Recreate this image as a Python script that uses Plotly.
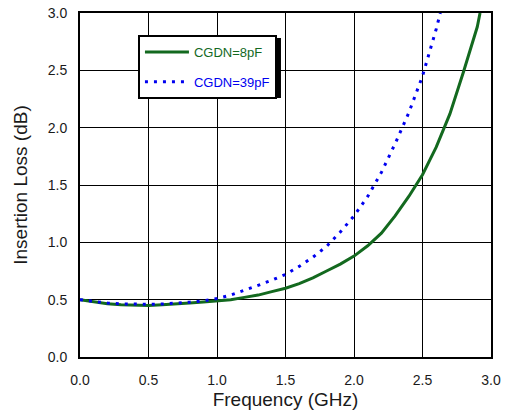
import plotly.graph_objects as go

freq_8 = [0.0, 0.1, 0.2, 0.3, 0.4, 0.5, 0.6, 0.7, 0.8, 0.9, 1.0, 1.1, 1.2, 1.3, 1.4,
          1.5, 1.6, 1.7, 1.8, 1.9, 2.0, 2.1, 2.2, 2.3, 2.4, 2.5, 2.6, 2.7, 2.8, 2.85, 2.9, 2.92]
loss_8 = [0.50, 0.48, 0.465, 0.455, 0.45, 0.45, 0.455, 0.46, 0.47, 0.48, 0.49, 0.50, 0.52,
          0.54, 0.57, 0.60, 0.64, 0.69, 0.75, 0.81, 0.88, 0.97, 1.08, 1.23, 1.40, 1.59, 1.83,
          2.12, 2.49, 2.68, 2.88, 3.0]

freq_39 = [0.0, 0.1, 0.2, 0.3, 0.4, 0.5, 0.6, 0.7, 0.8, 0.9, 1.0, 1.1, 1.2, 1.3, 1.4,
           1.5, 1.6, 1.7, 1.8, 1.9, 2.0, 2.1, 2.2, 2.3, 2.4, 2.5, 2.6, 2.63]
loss_39 = [0.50, 0.485, 0.47, 0.463, 0.46, 0.46, 0.462, 0.468, 0.478, 0.49, 0.51, 0.54,
           0.58, 0.625, 0.67, 0.72, 0.79, 0.87, 0.965, 1.09, 1.23, 1.40, 1.61, 1.86, 2.13,
           2.45, 2.86, 3.0]

x_ticks = [0.0, 0.5, 1.0, 1.5, 2.0, 2.5, 3.0]
y_ticks = [0.0, 0.5, 1.0, 1.5, 2.0, 2.5, 3.0]

GREEN = "#13691f"
BLUE = "#0000f0"
FONT = "Liberation Sans, Arial, sans-serif"
TXT = "#1a1a1a"

fig = go.Figure()
fig.add_trace(go.Scatter(
    x=freq_8, y=loss_8, mode="lines", line=dict(color=GREEN, width=3),
    name="<span style='color:%s'>CGDN=8pF</span>" % GREEN, legendgroup="a"))
fig.add_trace(go.Scatter(
    x=freq_39, y=loss_39, mode="lines", line=dict(color=BLUE, width=3, dash="3px,6px"),
    name="<span style='color:%s'>CGDN=39pF</span>" % BLUE, legendgroup="b"))

axis_common = dict(
    showline=True, linecolor="black", linewidth=2, mirror=True,
    showgrid=True, gridcolor="black", gridwidth=1, zeroline=False,
    ticks="", automargin=False, ticklabeloverflow="allow",
    tickfont=dict(family=FONT, size=14, color=TXT),
)

fig.update_xaxes(range=[0, 3], tickvals=x_ticks, ticktext=["%.1f" % v for v in x_ticks],
                 ticklabelstandoff=9,
                 title=dict(text="Frequency (GHz)", font=dict(family=FONT, size=19, color=TXT), standoff=6),
                 **axis_common)
fig.update_yaxes(range=[0, 3], tickvals=y_ticks, ticktext=["%.1f" % v for v in y_ticks],
                 ticklabelstandoff=8,
                 title=dict(text="Insertion Loss (dB)", font=dict(family=FONT, size=19, color=TXT), standoff=15),
                 **axis_common)

fig.add_shape(type="rect", xref="paper", yref="paper",
              x0=0.148, x1=0.489, y0=0.753, y1=0.927,
              fillcolor="black", line=dict(width=0), layer="above")

fig.update_layout(
    width=505, height=415,
    margin=dict(l=80, r=14, t=13, b=58),
    paper_bgcolor="white", plot_bgcolor="white",
    font=dict(family=FONT, size=13),
    legend=dict(x=0.141, y=0.936, xanchor="left", yanchor="top",
                bgcolor="white", bordercolor="black", borderwidth=2,
                traceorder="grouped", tracegroupgap=10, itemwidth=44,
                font=dict(family=FONT, size=13)),
    showlegend=True,
)

fig.write_html("out.html", config={"displayModeBar": False},
               post_script="document.body.style.margin='0px';")
